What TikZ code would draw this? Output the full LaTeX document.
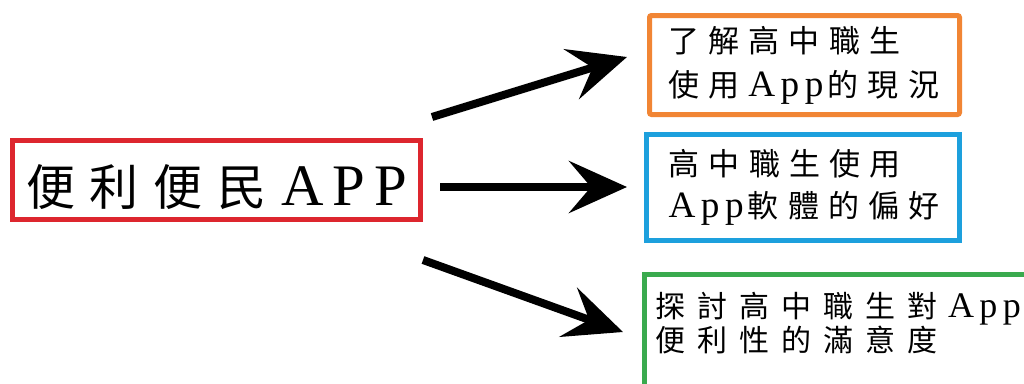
\documentclass[tikz,border=0pt]{standalone}
\usepackage{fontspec}
\setmainfont{Liberation Serif}
\newfontfamily\cjk{Noto Sans CJK TC}[LetterSpace=30]
\newfontfamily\cjkw{Noto Sans CJK TC}[LetterSpace=40]
\newfontfamily\lat{Liberation Serif}[Scale=1.2, LetterSpace=15]
\usetikzlibrary{arrows.meta}
\hfuzz=200pt
\definecolor{boxred}{RGB}{221,38,46}
\definecolor{boxorange}{RGB}{241,133,52}
\definecolor{boxblue}{RGB}{29,160,221}
\definecolor{boxgreen}{RGB}{58,170,78}
\tikzset{
  frame/.style={draw, line width=5pt, inner ysep=0pt, align=left},
  flow/.style={-{Stealth[length=58pt,width=52pt,inset=22pt]}, line width=8pt, black},
}
\begin{document}
\begin{tikzpicture}[x=1pt, y=-1pt]
        % Lienzo
        \clip (0,0) rectangle (1024,383);
        \fill[white] (0,0) rectangle (1024,383);
        % Caja principal
        \node[frame, boxred, text=black, minimum width=408pt, minimum height=79pt, inner xsep=0pt,
              text height=50pt, text depth=0pt, font={\fontsize{49pt}{50pt}\selectfont\cjk}]
              (app) at (216.5,180) {便利便民\hspace{15pt}{\lat APP}};
        % Objetivos
        \node[frame, boxorange, rounded corners=2pt, text=black, minimum height=99pt, inner xsep=18.5pt,
              text width=273pt, font={\fontsize{31pt}{44pt}\selectfont\cjk}]
              (uso) at (804.5,65) {了解高中職生\\\mbox{使用\hspace{9pt}{\lat App}\hspace{4pt}的現況}};
        \node[frame, boxblue, text=black, minimum height=106pt, inner xsep=22pt,
              text width=269pt, font={\fontsize{31pt}{42pt}\selectfont\cjk}]
              (pref) at (803,187.5) {高中職生使用\\\mbox{{\lat App}\hspace{4pt}軟體的偏好}};
        \node[frame, boxgreen, text=black, anchor=north west, inner xsep=10.5pt, inner ysep=18pt,
              text width=420pt, text depth=80pt, font={\fontsize{30pt}{32pt}\selectfont\cjkw}]
              (sat) at (642,272) {\mbox{探討高中職生對\hspace{11pt}{\lat App}}\\便利性的滿意度};
        % Flechas
        \coordinate (f1a) at (432,117);
        \coordinate (f1b) at (627,57);
        \coordinate (f2a) at (440,187);
        \coordinate (f2b) at (627,187);
        \coordinate (f3a) at (423,260);
        \coordinate (f3b) at (623,332);
        \draw[flow] (f1a) -- (f1b);
        \draw[flow] (f2a) -- (f2b);
        \draw[flow] (f3a) -- (f3b);
\end{tikzpicture}
\end{document}
